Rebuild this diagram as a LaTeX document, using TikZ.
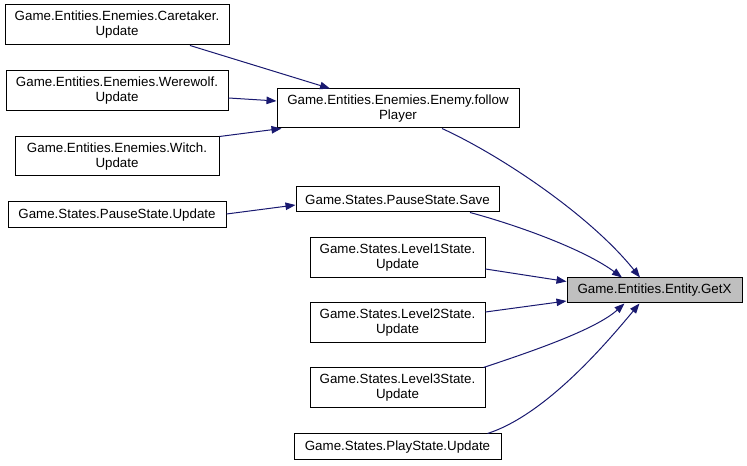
\documentclass[tikz,border=0pt]{standalone}
\usepackage{fontspec}
\setmainfont{Liberation Sans}
\usetikzlibrary{arrows.meta}
\definecolor{edgeblue}{HTML}{191970}
\definecolor{hlgray}{HTML}{BFBFBF}
\tikzset{
  fn/.style={draw=black, line width=0.75pt, fill=white, inner sep=0pt, align=center,
    font=\fontsize{10}{11.3}\selectfont},
  call/.style={draw=edgeblue, line width=0.75pt,
    -{Triangle[length=7.5pt,width=5.6pt,fill=edgeblue]}}
}
\begin{document}
\begin{tikzpicture}[x=0.75pt,y=-0.75pt]
\useasboundingbox (0,0) rectangle (747,466);
\node[fn, minimum width=224*0.75pt, minimum height=40*0.75pt] (care) at (117,25) {Game.Entities.Enemies.Caretaker.\\Update};
\node[fn, minimum width=222*0.75pt, minimum height=40*0.75pt] (were) at (117,91) {Game.Entities.Enemies.Werewolf.\\Update};
\node[fn, minimum width=204*0.75pt, minimum height=39*0.75pt] (witch) at (117,156.5) {Game.Entities.Enemies.Witch.\\Update};
\node[fn, minimum width=242*0.75pt, minimum height=39*0.75pt] (enemy) at (398,108.5) {Game.Entities.Enemies.Enemy.follow\\Player};
\node[fn, minimum width=218*0.75pt, minimum height=26*0.75pt] (pause) at (117,215) {Game.States.PauseState.Update};
\node[fn, minimum width=203*0.75pt, minimum height=25*0.75pt] (save) at (397.5,199.5) {Game.States.PauseState.Save};
\node[fn, minimum width=175*0.75pt, minimum height=40*0.75pt] (lvl1) at (397.5,257.5) {Game.States.Level1State.\\Update};
\node[fn, minimum width=175*0.75pt, minimum height=40*0.75pt] (lvl2) at (397.5,323) {Game.States.Level2State.\\Update};
\node[fn, minimum width=175*0.75pt, minimum height=40*0.75pt] (lvl3) at (397.5,388) {Game.States.Level3State.\\Update};
\node[fn, minimum width=207*0.75pt, minimum height=26*0.75pt] (play) at (397.5,447) {Game.States.PlayState.Update};
\node[fn, fill=hlgray, minimum width=175*0.75pt, minimum height=25*0.75pt] (getx) at (654.5,290.5) {Game.Entities.Entity.GetX};

\draw[call] ([shift={(73,0)}]care.south) -- ([shift={(-68,0)}]enemy.north);
\draw[call] ([shift={(0,7)}]were.east) -- ([shift={(0,-7.5)}]enemy.west);
\draw[call] (witch.north east) -- ([shift={(5,0)}]enemy.south west);
\draw[call] ([shift={(0,-1)}]pause.east) -- ([shift={(0,5.5)}]save.west);
\draw[call] ([shift={(44,0)}]enemy.south) .. controls (500,155) and (590,215) .. ([shift={(-14.5,0)}]getx.north);
\draw[call] ([shift={(72.5,0)}]save.south) .. controls (520,226) and (585,250) .. ([shift={(-32.5,0)}]getx.north);
\draw[call] ([shift={(0,11.5)}]lvl1.east) -- ([shift={(0,-9)}]getx.west);
\draw[call] ([shift={(0,-11)}]lvl2.east) -- ([shift={(0,10.5)}]getx.west);
\draw[call] ([shift={(-2,0)}]lvl3.north east) .. controls (530,352) and (595,330) .. ([shift={(-30,0)}]getx.south);
\draw[call] ([shift={(90,0)}]play.north) .. controls (545,415) and (605,345) .. ([shift={(-15,0)}]getx.south);
\end{tikzpicture}
\end{document}
